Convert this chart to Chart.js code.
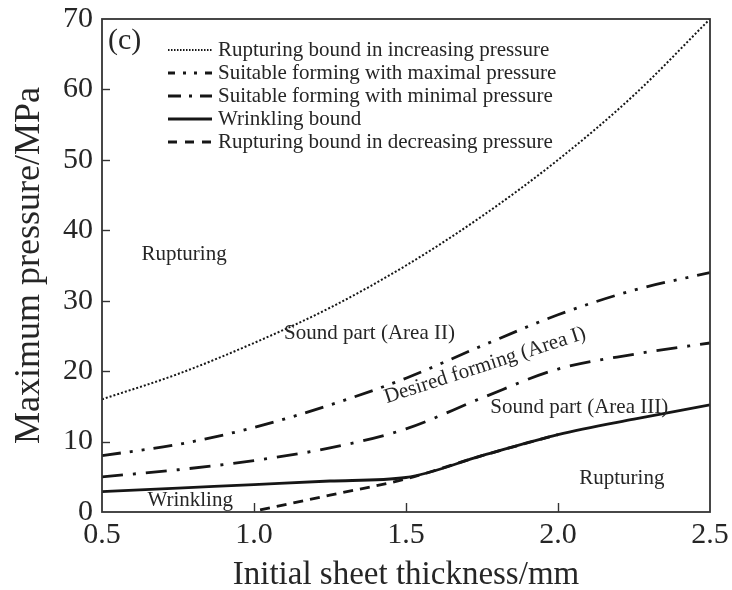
<!DOCTYPE html>
<html>
<head>
<meta charset="utf-8">
<script src="https://cdn.jsdelivr.net/npm/chart.js@4.4.1/dist/chart.umd.min.js"></script>
<style>
  html, body { margin: 0; padding: 0; background: #fff; }
  #wrap { width: 732px; height: 590px; }
</style>
</head>
<body>
<div id="wrap"><canvas id="chart" width="732" height="590"></canvas></div>
<script>
// thickness (mm)
const thickness = [0.5, 0.75, 1.0, 1.25, 1.5, 1.75, 2.0, 2.25, 2.5];
const ruptureIncreasing = [16, 19.6, 24, 29, 35, 42, 50, 59.2, 70];
const maximalPressure = [8, 9.6, 12, 15.2, 19, 23.6, 28, 31.5, 34];
const minimalPressure = [5, 6, 7.3, 9.1, 11.8, 16.2, 20.3, 22.4, 24];
const wrinklingBound = [2.9, 3.4, 3.9, 4.4, 4.9, 8, 11, 13.2, 15.2];
const decreasingThickness = [1.02, 1.25, 1.5, 1.75, 2.0];
const ruptureDecreasing = [0.3, 2.4, 4.7, 8, 11];
const yTicks = [0, 10, 20, 30, 40, 50, 60, 70];
const xTicks = [0.5, 1.0, 1.5, 2.0, 2.5];

const legendNames = [
    'Rupturing bound in increasing pressure',
    'Suitable forming with maximal pressure',
    'Suitable forming with minimal pressure',
    'Wrinkling bound',
    'Rupturing bound in decreasing pressure'
];

// region labels, in data coordinates
const regionText = ['Rupturing', 'Sound part (Area II)', 'Desired forming (Area I)', 'Sound part (Area III)', 'Rupturing', 'Wrinkling'];
const regionX = [0.77, 1.38, 1.76, 2.07, 2.21, 0.79];
const regionY = [36.6, 25.3, 20.8, 14.8, 4.8, 1.6];
const regionAngle = [0, 0, -18, 0, 0, 0];

const ink = '#161616';
const textInk = '#262626';
const serif = '"Liberation Serif", "DejaVu Serif", serif';

function series(xs, ys) {
    return xs.map((x, i) => ({ x, y: ys[i] }));
}

const styles = [
    { width: 2, dash: [2, 2], key: [1.5, 1.5] },
    { width: 2.8, dash: [19, 9, 3, 9, 3, 9], key: [7, 8, 3, 8, 3, 8] },
    { width: 2.8, dash: [21, 10, 3, 10], key: [13, 8, 3, 8] },
    { width: 2.8, dash: [], key: [] },
    { width: 2.8, dash: [10, 7], key: [9, 8] }
];

const datasets = [
    series(thickness, ruptureIncreasing),
    series(thickness, maximalPressure),
    series(thickness, minimalPressure),
    series(thickness, wrinklingBound),
    series(decreasingThickness, ruptureDecreasing)
].map((data, i) => ({
    label: legendNames[i],
    data,
    borderColor: ink,
    borderWidth: styles[i].width,
    borderDash: styles[i].dash,
    pointRadius: 0,
    cubicInterpolationMode: 'monotone',
    fill: false
}));

// frame, inner ticks, legend and region texts
const decorations = {
    id: 'decorations',
    afterDraw(chart) {
        const { ctx, chartArea: a, scales } = chart;
        ctx.save();
        ctx.strokeStyle = '#333';
        ctx.lineWidth = 1.8;
        ctx.setLineDash([]);
        ctx.strokeRect(a.left, a.top, a.right - a.left, a.bottom - a.top);

        ctx.lineWidth = 1.4;
        yTicks.slice(1, -1).forEach(v => {
            const py = Math.round(scales.y.getPixelForValue(v)) + 0.5;
            ctx.beginPath();
            ctx.moveTo(a.left, py);
            ctx.lineTo(a.left + 8, py);
            ctx.stroke();
        });
        xTicks.slice(1, -1).forEach(v => {
            const px = Math.round(scales.x.getPixelForValue(v)) + 0.5;
            ctx.beginPath();
            ctx.moveTo(px, a.bottom);
            ctx.lineTo(px, a.bottom - 9);
            ctx.stroke();
        });

        ctx.fillStyle = textInk;
        ctx.font = '30px ' + serif;
        ctx.textBaseline = 'middle';
        ctx.fillText('(c)', a.left + 6, a.top + 22);

        // legend
        ctx.font = '21px ' + serif;
        legendNames.forEach((name, i) => {
            const ly = a.top + 31 + i * 23;
            ctx.strokeStyle = ink;
            ctx.lineWidth = styles[i].width;
            ctx.setLineDash(styles[i].key);
            ctx.beginPath();
            ctx.moveTo(a.left + 66, ly);
            ctx.lineTo(a.left + 110, ly);
            ctx.stroke();
            ctx.fillText(name, a.left + 116, ly);
        });
        ctx.setLineDash([]);

        ctx.textAlign = 'center';
        regionText.forEach((t, i) => {
            ctx.save();
            ctx.translate(scales.x.getPixelForValue(regionX[i]), scales.y.getPixelForValue(regionY[i]));
            ctx.rotate(regionAngle[i] * Math.PI / 180);
            ctx.fillText(t, 0, 0);
            ctx.restore();
        });
        ctx.restore();
    }
};

new Chart(document.getElementById('chart'), {
    type: 'line',
    data: { datasets },
    options: {
        responsive: false,
        animation: false,
        layout: { padding: { left: 0, right: 22, top: 9, bottom: 0 } },
        plugins: { legend: { display: false }, tooltip: { enabled: false } },
        scales: {
            x: {
                type: 'linear',
                min: 0.5,
                max: 2.5,
                afterBuildTicks: s => { s.ticks = xTicks.map(v => ({ value: v })); },
                afterFit: s => { s.height = 78; },
                grid: { display: false },
                border: { display: false },
                ticks: {
                    color: textInk,
                    padding: -3,
                    maxRotation: 0,
                    font: { family: serif, size: 30 },
                    callback: v => v.toFixed(1)
                },
                title: {
                    display: true,
                    text: 'Initial sheet thickness/mm',
                    color: textInk,
                    font: { family: serif, size: 33 },
                    padding: { top: 0, bottom: -5 }
                }
            },
            y: {
                min: 0,
                max: 70,
                afterBuildTicks: s => { s.ticks = yTicks.map(v => ({ value: v })); },
                afterFit: s => { s.width = 102; },
                grid: { display: false },
                border: { display: false },
                ticks: {
                    color: textInk,
                    padding: 1,
                    font: { family: serif, size: 30 }
                },
                title: {
                    display: true,
                    text: 'Maximum pressure/MPa',
                    color: textInk,
                    font: { family: serif, size: 36 },
                    padding: { top: 8, bottom: 0 }
                }
            }
        }
    },
    plugins: [decorations]
});
</script>
</body>
</html>
